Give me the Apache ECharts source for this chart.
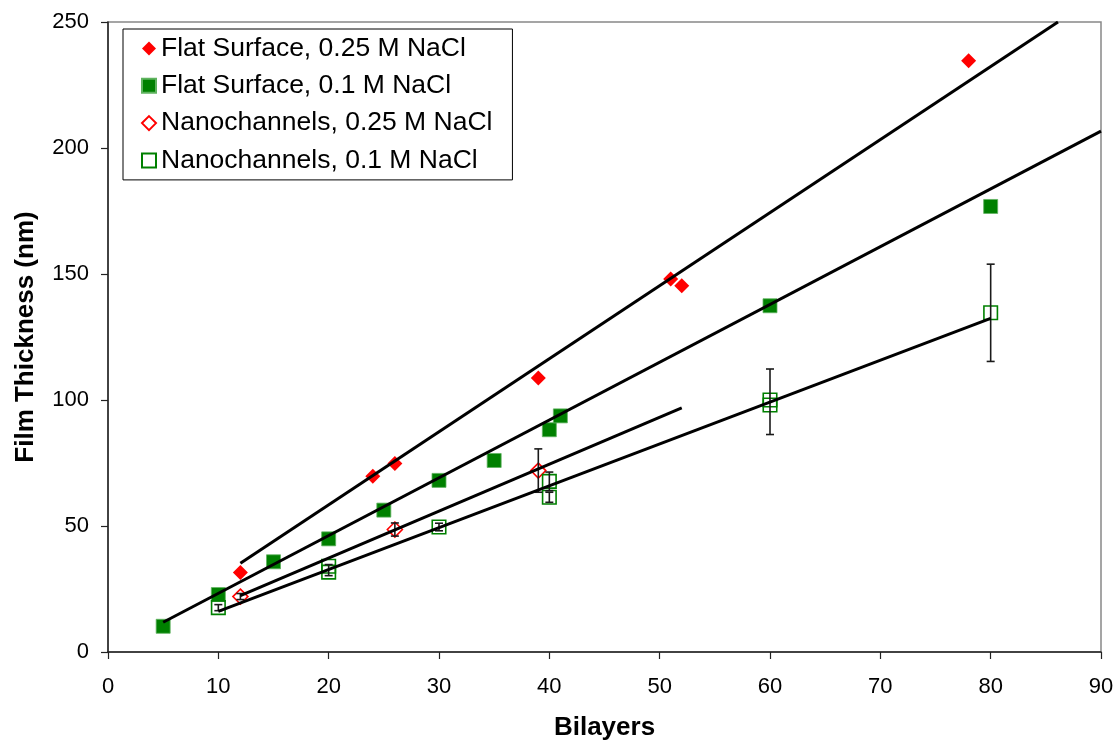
<!DOCTYPE html>
<html>
<head>
<meta charset="utf-8">
<script src="https://cdn.jsdelivr.net/npm/echarts@6/dist/echarts.min.js"></script>
<style>
html,body{margin:0;padding:0;background:#fff;overflow:hidden;}
#chart{width:1117px;height:746px;}
</style>
</head>
<body>
<div id="chart"></div>
<script>
// ---- data ----
var flat025 = [[12, 31.5], [24, 69.7], [26, 74.8], [39, 108.7], [51, 148], [52, 145.3], [78, 234.6]];
var flat01 = [[5, 10.2], [10, 22.8], [15, 35.8], [20, 44.9], [25, 56.3], [30, 68.1], [35, 76], [40, 88.2], [41, 93.7], [60, 137.4], [80, 176.8]];
var nano025 = [[12, 22], [26, 48.6], [39, 72]];
var nano01 = [[10, 17.6], [20, 34], [20, 31.7], [30, 49.6], [40, 67.7], [40, 61.4], [60, 100], [60, 98], [80, 134.6]];
// error bars: [x, centre, half-range]
var errNano025 = [[12, 22, 1.2], [26, 48.6, 2.6], [39, 72, 8.6]];
var errNano01 = [[10, 17.6, 1.2], [20, 32.5, 2.2], [30, 49.6, 1.5], [40, 67.7, 3.7], [40, 61.4, 2], [60, 99.3, 13], [80, 134.6, 19.3]];
// regression lines (end points as drawn)
var fitFlat025 = [[12, 35.2], [86.1, 250]];
var fitFlat01 = [[5, 11.8], [90, 206.7]];
var fitNano025 = [[12, 22.4], [52, 96.9]];
var fitNano01 = [[10, 16.1], [80, 132.4]];
var xTicks = {min: 0, max: 90, interval: 10};
var yTicks = {min: 0, max: 250, interval: 50};
var names = ['Flat Surface, 0.25 M NaCl', 'Flat Surface, 0.1 M NaCl', 'Nanochannels, 0.25 M NaCl', 'Nanochannels, 0.1 M NaCl'];

var FONT = '"Liberation Sans", Arial, Helvetica, sans-serif';
var chart = echarts.init(document.getElementById('chart'));

function errRender(params, api) {
  var x = api.value(0), y = api.value(1), e = api.value(2);
  var top = api.coord([x, y + e]);
  var bot = api.coord([x, y - e]);
  var hw = 4;
  var st = {stroke: '#1a1a1a', lineWidth: 1.6};
  return {
    type: 'group',
    children: [
      {type: 'line', shape: {x1: top[0], y1: top[1], x2: bot[0], y2: bot[1]}, style: st},
      {type: 'line', shape: {x1: top[0] - hw, y1: top[1], x2: top[0] + hw, y2: top[1]}, style: st},
      {type: 'line', shape: {x1: bot[0] - hw, y1: bot[1], x2: bot[0] + hw, y2: bot[1]}, style: st}
    ]
  };
}

function fitLine(d) {
  return {
    type: 'line', data: d, symbol: 'none', silent: true, z: 5,
    lineStyle: {color: '#000', width: 3}, animation: false
  };
}

var option = {
  backgroundColor: '#fff',
  animation: false,
  grid: {left: 108, right: 16, top: 22, bottom: 89, show: true, borderColor: '#888', borderWidth: 1.5, backgroundColor: 'transparent'},
  legend: {
    data: names,
    orient: 'vertical',
    left: 123, top: 29,
    padding: [6, 20, 6, 18],
    itemGap: 10.3,
    itemWidth: 14, itemHeight: 14,
    itemTextGap: 8,
    backgroundColor: '#fff',
    borderColor: '#000', borderWidth: 1,
    textStyle: {fontFamily: FONT, fontSize: 26.5, lineHeight: 27, color: '#000'}
  },
  xAxis: {
    type: 'value', min: xTicks.min, max: xTicks.max, interval: xTicks.interval,
    name: 'Bilayers', nameLocation: 'middle', nameGap: 63,
    nameTextStyle: {fontFamily: FONT, fontSize: 26, fontWeight: 'bold', color: '#000'},
    axisLine: {show: true, onZero: false, lineStyle: {color: '#222', width: 1.5}},
    axisTick: {show: true, inside: false, length: 7, lineStyle: {color: '#222', width: 1.2}},
    axisLabel: {margin: 24, fontFamily: FONT, fontSize: 22, color: '#000'},
    splitLine: {show: false}
  },
  yAxis: {
    type: 'value', min: yTicks.min, max: yTicks.max, interval: yTicks.interval,
    name: 'Film Thickness (nm)', nameLocation: 'middle', nameGap: 69,
    nameTextStyle: {fontFamily: FONT, fontSize: 26, fontWeight: 'bold', color: '#000'},
    axisLine: {show: true, onZero: false, lineStyle: {color: '#222', width: 1.5}},
    axisTick: {show: true, inside: false, length: 7, lineStyle: {color: '#222', width: 1.2}},
    axisLabel: {margin: 19, fontFamily: FONT, fontSize: 22, color: '#000'},
    splitLine: {show: false}
  },
  series: [
    {name: names[0], type: 'scatter', data: flat025, symbol: 'diamond', symbolSize: 15, z: 3,
     itemStyle: {color: '#ff0000', opacity: 1}},
    {name: names[1], type: 'scatter', data: flat01, symbol: 'rect', symbolSize: 14, z: 3,
     itemStyle: {color: '#008000', borderColor: '#5fb35f', borderWidth: 0.8, opacity: 1}},
    {name: names[2], type: 'scatter', data: nano025, symbol: 'diamond', symbolSize: 15, z: 3,
     itemStyle: {color: 'rgba(255,255,255,0)', borderColor: '#ff0000', borderWidth: 1.6, opacity: 1}},
    {name: names[3], type: 'scatter', data: nano01, symbol: 'rect', symbolSize: 13.5, z: 3,
     itemStyle: {color: 'rgba(255,255,255,0)', borderColor: '#008000', borderWidth: 1.6, opacity: 1}},
    {type: 'custom', data: errNano025, renderItem: errRender, z: 4, silent: true, encode: {x: 0, y: 1}},
    {type: 'custom', data: errNano01, renderItem: errRender, z: 4, silent: true, encode: {x: 0, y: 1}},
    fitLine(fitFlat025),
    fitLine(fitFlat01),
    fitLine(fitNano025),
    fitLine(fitNano01)
  ]
};
chart.setOption(option);
</script>
</body>
</html>
